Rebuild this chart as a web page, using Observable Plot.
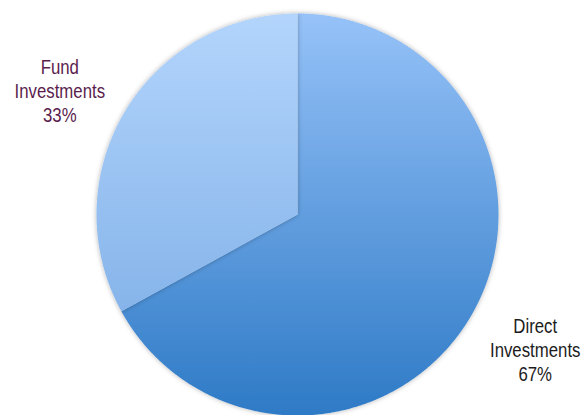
<!DOCTYPE html>
<html>
<head>
<meta charset="utf-8">
<script src="https://cdn.jsdelivr.net/npm/d3@7"></script>
<script src="https://cdn.jsdelivr.net/npm/@observablehq/plot@0.6"></script>
<style>
  html, body { margin: 0; padding: 0; background: #fff; }
  #chart { width: 583px; height: 415px; }
</style>
</head>
<body>
<div id="chart"></div>
<script>
const categories = ["Direct Investments", "Fund Investments"];
const values = [67, 33];
const labelLines = ["Direct\nInvestments\n67%", "Fund\nInvestments\n33%"];
const labelColors = ["#1c1c1c", "#5a1d4e"];
const gradients = ["url(#gDirect)", "url(#gFund)"];

const data = categories.map((c, i) => ({category: c, value: values[i], label: labelLines[i], color: labelColors[i], fill: gradients[i]}));
const arcs = d3.pie().sort(null).value(d => d.value)(data);

// slice outlines as polygons in unit-circle coordinates
const polys = [];
arcs.forEach(a => {
  polys.push({k: a.data.category, x: 0, y: 0});
  const n = Math.ceil((a.endAngle - a.startAngle) / 0.005);
  for (let j = 0; j <= n; j++) {
    const t = a.startAngle + (a.endAngle - a.startAngle) * j / n;
    polys.push({k: a.data.category, x: Math.sin(t), y: Math.cos(t)});
  }
});

const labelR = 1.347;
const labelShift = -2 * Math.PI / 180;
const labels = arcs.map(a => {
  const m = (a.startAngle + a.endAngle) / 2 + labelShift;
  return {x: Math.sin(m) * labelR, y: Math.cos(m) * labelR, text: a.data.label, color: a.data.color};
});

const cx = 297, cy = 214, r = 201;
const W = 583, H = 415;

const plot = Plot.plot({
  width: W,
  height: H,
  marginLeft: cx - r,
  marginRight: W - (cx + r),
  marginTop: cy - r,
  marginBottom: H - (cy + r),
  x: {domain: [-1, 1], axis: null},
  y: {domain: [-1, 1], axis: null},
  style: {background: "white", overflow: "visible"},
  marks: [
    Plot.line(polys.filter(d => d.k === categories[0]), {x: "x", y: "y", curve: "linear-closed", fill: gradients[0], stroke: "none"}),
    Plot.line(polys.filter(d => d.k === categories[1]), {x: "x", y: "y", curve: "linear-closed", fill: gradients[1], stroke: "none"}),
    Plot.text(labels, {x: "x", y: "y", dy: 5, text: "text", fill: "color", fontSize: 20, lineHeight: 1.2, textAnchor: "middle", lineAnchor: "middle", fontFamily: "'Liberation Sans', Arial, sans-serif"})
  ]
});

const svg = d3.select(plot);
const defs = svg.insert("defs", ":first-child");
const g1 = defs.append("linearGradient").attr("id", "gDirect").attr("x1", 0).attr("y1", 0).attr("x2", 0).attr("y2", 1);
g1.append("stop").attr("offset", "0%").attr("stop-color", "#96c2f8");
g1.append("stop").attr("offset", "100%").attr("stop-color", "#2e7ac6");
const g2 = defs.append("linearGradient").attr("id", "gFund").attr("x1", 0).attr("y1", 0).attr("x2", 0).attr("y2", 1);
g2.append("stop").attr("offset", "0%").attr("stop-color", "#b3d5fc");
g2.append("stop").attr("offset", "100%").attr("stop-color", "#86b4ea");
const f = defs.append("filter").attr("id", "shadow").attr("x", "-10%").attr("y", "-10%").attr("width", "120%").attr("height", "120%");
f.append("feDropShadow").attr("dx", 0).attr("dy", 0).attr("stdDeviation", 2.5).attr("flood-color", "#000").attr("flood-opacity", 0.3);

// soft shadow on the slices
svg.selectAll("g[aria-label='line']").attr("filter", "url(#shadow)");
// narrow the label font (Arial Narrow look)
svg.selectAll("g[aria-label='text'] text").each(function() {
  const t = this.getAttribute("transform") || "";
  this.setAttribute("transform", t + " scale(0.84,1)");
});

document.getElementById("chart").appendChild(plot);
</script>
</body>
</html>
